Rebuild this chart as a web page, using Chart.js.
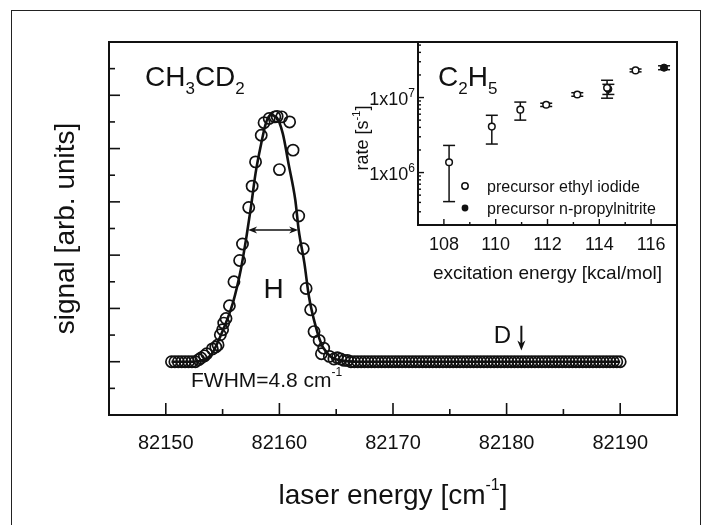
<!DOCTYPE html>
<html><head><meta charset="utf-8">
<script src="https://cdn.jsdelivr.net/npm/chart.js@4.4.1/dist/chart.umd.min.js"></script>
<style>
html,body{margin:0;padding:0;background:#fff;}
#wrap{position:relative;width:706px;height:525px;overflow:hidden;background:#fff;}
#frame{position:absolute;left:11px;top:10px;width:690px;height:560px;border:1.5px solid #222;box-sizing:border-box;}
#main{position:absolute;left:0;top:0;width:706px;height:525px;}
#inset{position:absolute;left:330px;top:30px;width:370px;height:270px;}
</style></head><body>
<div id="wrap"><div id="frame"></div>
<canvas id="main" width="706" height="525"></canvas>
<canvas id="inset" width="370" height="270"></canvas>
</div>
<script>
// ---------- main spectrum data (laser energy in cm^-1, signal arb. units) ----------
const energy = [
 82150.5,82150.8,82151.1,82151.4,82151.7,82152.0,82152.3,82152.6,
 82152.9,82153.1,82153.4,82153.6,82154.1,82154.4,82154.6,82154.8,82155.0,82155.1,82155.3,82155.6,
 82156.0,82156.5,82156.75,82157.3,82157.6,82157.9,82158.4,82158.65,82159.1,82159.6,82159.8,82160.0,
 82160.2,82160.9,82161.2,82161.7,82162.1,82162.35,82162.75,82163.05,82163.5,82163.7,82163.9,82164.4,82164.8,
 82165.1,82165.4,82165.7,82166.0,82166.3,82166.6,82166.9,82167.2,82167.5,82167.8,82168.1,82168.4,82168.7,
 82169.0,82169.3,82169.6,82169.9,82170.2,82170.5,82170.8,82171.1,82171.4,82171.7,82172.0,82172.3,82172.6,
 82172.9,82173.2,82173.5,82173.8,82174.1,82174.4,82174.7,82175.0,82175.3,82175.6,82175.9,82176.2,82176.5,
 82176.8,82177.1,82177.4,82177.7,82178.0,82178.3,82178.6,82178.9,82179.2,82179.5,82179.8,82180.1,82180.4,
 82180.7,82181.0,82181.3,82181.6,82181.9,82182.2,82182.5,82182.8,82183.1,82183.4,82183.7,82184.0,82184.3,
 82184.6,82184.9,82185.2,82185.5,82185.8,82186.1,82186.4,82186.7,82187.0,82187.3,82187.6,82187.9,82188.2,
 82188.5,82188.8,82189.1,82189.4,82189.7,82190.0
];
const signal = [
 0,0,0,0,0,0,0,0,
 0.08,0.14,0.22,0.30,0.48,0.55,0.63,1.01,1.20,1.45,1.62,2.10,
 3.00,3.80,4.42,5.79,6.59,7.50,8.50,8.97,9.13,9.19,9.21,7.21,
 9.19,9.00,7.94,5.47,4.24,2.75,1.95,1.13,0.80,0.30,0.51,0.20,0.10,
 0.15,0.10,0.05,0.05,0,0,0,0,0,0,0,0,0,
 0,0,0,0,0,0,0,0,0,0,0,0,0,
 0,0,0,0,0,0,0,0,0,0,0,0,0,
 0,0,0,0,0,0,0,0,0,0,0,0,0,
 0,0,0,0,0,0,0,0,0,0,0,0,0,
 0,0,0,0,0,0,0,0,0,0,0,0,0,
 0,0,0,0,0,0
];
// fitted line
const fitEnergy = [82150.5,82152.5,82153.1,82154.0,82154.8,82155.9,82156.6,82157.1,82157.5,82157.9,82158.4,82158.8,82159.2,82159.7,82160.3,82160.8,82161.4,82161.7,82162.2,82162.6,82163.2,82163.8,82164.5,82165.4,82167.0,82190.0];
const fitSignal = [0,0,0.05,0.26,0.95,2.20,3.45,4.69,5.82,7.07,8.19,8.94,9.25,9.19,8.56,7.44,6.07,4.94,3.70,2.45,1.32,0.57,0.20,0.05,0,0];
const xTickValues = [82150,82160,82170,82180,82190];
const xMinorTicks = [82155,82165,82175,82185];
const yTickValues = [-1,0,1,2,3,4,5,6,7,8,9,10,11];
const fwhmLevel = 4.94, fwhmFrom = 82157.25, fwhmTo = 82161.65;
const dMarkEnergy = 82181.3;

// ---------- inset data: rate vs excitation energy ----------
const excEthyl   = [108.2, 109.85, 110.95, 111.95, 113.15, 114.3, 115.4];
const rateEthyl  = [1.37e6, 4.1e6, 6.9e6, 8.0e6, 1.1e7, 1.35e7, 2.3e7];
const lowEthyl   = [4.1e5, 2.4e6, 5.0e6, 7.6e6, 1.04e7, 9.8e6, 2.2e7];
const highEthyl  = [2.3e6, 5.8e6, 8.7e6, 8.4e6, 1.16e7, 1.7e7, 2.4e7];
const excPropyl  = [114.35, 116.5];
const ratePropyl = [1.3e7, 2.5e7];
const lowPropyl  = [1.1e7, 2.35e7];
const highPropyl = [1.5e7, 2.65e7];
const insetXTicks = [108,110,112,114,116];
const insetXMinor = [109,111,113,115];
const insetYTicks = [1e6,1e7];

const FONT = '"Liberation Sans", Arial, Helvetica, sans-serif';
const INK = '#111';
Chart.defaults.font.family = FONT;
Chart.defaults.color = INK;

function rich(ctx, parts, x, y, align){
  let w = 0;
  parts.forEach(p=>{ctx.font = p.s+'px '+FONT; p.w = ctx.measureText(p.t).width; w += p.w;});
  let cx = align==='center' ? x-w/2 : (align==='right' ? x-w : x);
  ctx.textAlign='left'; ctx.textBaseline='alphabetic';
  parts.forEach(p=>{ctx.font = p.s+'px '+FONT; ctx.fillText(p.t, cx, y+(p.dy||0)); cx += p.w;});
}
function line(ctx,x1,y1,x2,y2){ctx.beginPath();ctx.moveTo(x1,y1);ctx.lineTo(x2,y2);ctx.stroke();}
function head(ctx,x,y,dx,dy,len,wid){
  const px=-dy, py=dx;
  ctx.beginPath();
  ctx.moveTo(x,y);
  ctx.lineTo(x-dx*len+px*wid, y-dy*len+py*wid);
  ctx.lineTo(x-dx*len*0.7, y-dy*len*0.7);
  ctx.lineTo(x-dx*len-px*wid, y-dy*len-py*wid);
  ctx.closePath(); ctx.fill();
}

const mainDecor = {
  id:'mainDecor',
  afterDraw(chart){
    const {ctx, chartArea:a, scales:{x,y}} = chart;
    ctx.save();
    ctx.strokeStyle = INK; ctx.fillStyle = INK;
    ctx.lineWidth = 2;
    ctx.strokeRect(a.left, a.top, a.right-a.left, a.bottom-a.top);
    ctx.lineWidth = 1.6;
    xTickValues.forEach(v=>{const p=x.getPixelForValue(v); line(ctx,p,a.bottom,p,a.bottom-12);});
    xMinorTicks.forEach(v=>{const p=x.getPixelForValue(v); line(ctx,p,a.bottom,p,a.bottom-6);});
    yTickValues.forEach(v=>{const p=y.getPixelForValue(v); line(ctx,a.left,p,a.left+(v%2===0?11:6),p);});
    // FWHM arrow
    const fy = y.getPixelForValue(fwhmLevel);
    const f1 = x.getPixelForValue(fwhmFrom), f2 = x.getPixelForValue(fwhmTo);
    ctx.lineWidth = 1.5;
    line(ctx,f1+4,fy,f2-4,fy);
    head(ctx,f1,fy,-1,0,9,3.5);
    head(ctx,f2,fy,1,0,9,3.5);
    // D marker arrow
    const dx = x.getPixelForValue(dMarkEnergy);
    const dTop = y.getPixelForValue(1.35), dTip = y.getPixelForValue(0.42);
    ctx.lineWidth = 2;
    line(ctx,dx,dTop,dx,dTip-6);
    head(ctx,dx,dTip,0,1,10,4);
    // texts
    rich(ctx,[{t:'CH',s:28},{t:'3',s:17,dy:8},{t:'CD',s:28},{t:'2',s:17,dy:8}], a.left+36, a.top+44,'left');
    rich(ctx,[{t:'H',s:28}], x.getPixelForValue(82159.5), y.getPixelForValue(2.4),'center');
    rich(ctx,[{t:'D',s:24}], dx-19, y.getPixelForValue(0.7),'center');
    rich(ctx,[{t:'FWHM=4.8 cm',s:21},{t:'-1',s:12,dy:-11}], a.left+82, a.bottom-28,'left');
    // axis titles
    rich(ctx,[{t:'laser energy [cm',s:28},{t:'-1',s:16,dy:-14},{t:']',s:28}], (a.left+a.right)/2, 504,'center');
    ctx.save();
    ctx.translate(64,(a.top+a.bottom)/2);
    ctx.rotate(-Math.PI/2);
    rich(ctx,[{t:'signal [arb. units]',s:28}],0,10,'center');
    ctx.restore();
    ctx.restore();
  }
};

new Chart(document.getElementById('main'), {
  type:'scatter',
  data:{datasets:[
    {label:'fit', data: fitEnergy.map((e,i)=>({x:e,y:fitSignal[i]})), showLine:true, pointRadius:0,
     borderColor:INK, borderWidth:2.6, cubicInterpolationMode:'monotone', fill:false},
    {label:'data', data: energy.map((e,i)=>({x:e,y:signal[i]})), pointRadius:5.6, pointStyle:'circle',
     pointBorderWidth:1.7, borderColor:INK, pointBorderColor:INK, pointBackgroundColor:'rgba(0,0,0,0)', showLine:false}
  ]},
  options:{
    responsive:false, animation:false, devicePixelRatio:1,
    layout:{padding:{left:109,top:42,right:29,bottom:0}},
    plugins:{legend:{display:false}, tooltip:{enabled:false}},
    scales:{
      x:{type:'linear', min:82145, max:82195,
         grid:{display:false, drawTicks:false}, border:{display:false},
         afterBuildTicks:s=>{s.ticks = xTickValues.map(v=>({value:v}));},
         afterFit:s=>{s.height = 110;},
         ticks:{font:{size:20}, color:INK, padding:16, maxRotation:0, callback:v=>String(v)}},
      y:{type:'linear', min:-2, max:12,
         grid:{display:false, drawTicks:false}, border:{display:false},
         ticks:{display:false}, afterFit:s=>{s.width = 0;}}
    }
  },
  plugins:[mainDecor]
});

// ---------- inset ----------
const insetDecor = {
  id:'insetDecor',
  beforeDraw(chart){
    const {ctx, chartArea:a} = chart;
    ctx.save(); ctx.fillStyle='#fff'; ctx.fillRect(a.left,a.top,a.right-a.left,a.bottom-a.top); ctx.restore();
  },
  beforeDatasetsDraw(chart){
    const {ctx, scales:{x,y}} = chart;
    ctx.save(); ctx.strokeStyle=INK; ctx.lineWidth=1.5;
    const bars = (xs,lo,hi)=>xs.forEach((v,i)=>{
      const px=x.getPixelForValue(v), p1=y.getPixelForValue(lo[i]), p2=y.getPixelForValue(hi[i]);
      line(ctx,px,p1,px,p2); line(ctx,px-6,p1,px+6,p1); line(ctx,px-6,p2,px+6,p2);
    });
    bars(excEthyl,lowEthyl,highEthyl);
    bars(excPropyl,lowPropyl,highPropyl);
    ctx.restore();
  },
  afterDraw(chart){
    const {ctx, chartArea:a, scales:{x,y}} = chart;
    ctx.save(); ctx.strokeStyle=INK; ctx.fillStyle=INK;
    ctx.lineWidth=2;
    ctx.strokeRect(a.left,a.top,a.right-a.left,a.bottom-a.top);
    ctx.lineWidth=1.4;
    insetXTicks.forEach(v=>{const p=x.getPixelForValue(v); line(ctx,p,a.bottom,p,a.bottom-6);});
    insetXMinor.forEach(v=>{const p=x.getPixelForValue(v); line(ctx,p,a.bottom,p,a.bottom-3);});
    [1e5,1e6,1e7].forEach(d=>{for(let k=1;k<10;k++){const v=d*k; if(v<y.min||v>y.max) continue;
      const p=y.getPixelForValue(v); line(ctx,a.left,p,a.left+(k===1?6:3),p);}});
    insetYTicks.forEach(v=>{const p=y.getPixelForValue(v);
      const e = Math.round(Math.log10(v));
      rich(ctx,[{t:'1x10',s:18},{t:String(e),s:12,dy:-8}], a.left-3, p+7,'right');});
    rich(ctx,[{t:'C',s:28},{t:'2',s:17,dy:8},{t:'H',s:28},{t:'5',s:17,dy:8}], a.left+20, a.top+44,'left');
    rich(ctx,[{t:'excitation energy [kcal/mol]',s:19}], (a.left+a.right)/2, 249,'center');
    ctx.save(); ctx.translate(38,108); ctx.rotate(-Math.PI/2);
    rich(ctx,[{t:'rate [s',s:18},{t:'-1',s:11,dy:-8},{t:']',s:18}],0,0,'center');
    ctx.restore();
    ctx.lineWidth=1.5;
    ctx.beginPath(); ctx.arc(a.left+47,a.top+144,3.2,0,Math.PI*2); ctx.fillStyle='#fff'; ctx.fill(); ctx.stroke();
    ctx.fillStyle=INK;
    ctx.beginPath(); ctx.arc(a.left+47,a.top+166,3.4,0,Math.PI*2); ctx.fill();
    rich(ctx,[{t:'precursor ethyl iodide',s:16}], a.left+69, a.top+150,'left');
    rich(ctx,[{t:'precursor n-propylnitrite',s:16}], a.left+69, a.top+172,'left');
    ctx.restore();
  }
};

new Chart(document.getElementById('inset'), {
  type:'scatter',
  data:{datasets:[
    {label:'precursor ethyl iodide', data: excEthyl.map((e,i)=>({x:e,y:rateEthyl[i]})), pointRadius:3.3,
     pointBorderWidth:1.5, pointBorderColor:INK, pointBackgroundColor:'#fff'},
    {label:'precursor n-propylnitrite', data: excPropyl.map((e,i)=>({x:e,y:ratePropyl[i]})), pointRadius:3.6,
     pointBorderWidth:1, pointBorderColor:INK, pointBackgroundColor:INK}
  ]},
  options:{
    responsive:false, animation:false, devicePixelRatio:1,
    layout:{padding:{left:88,top:12,right:23,bottom:0}},
    plugins:{legend:{display:false}, tooltip:{enabled:false}},
    scales:{
      x:{type:'linear', min:107, max:117,
         grid:{display:false, drawTicks:false}, border:{display:false},
         afterBuildTicks:s=>{s.ticks = insetXTicks.map(v=>({value:v}));},
         afterFit:s=>{s.height = 75;},
         ticks:{font:{size:18}, color:INK, padding:9, maxRotation:0, callback:v=>String(v)}},
      y:{type:'logarithmic', min:2e5, max:5.5e7,
         grid:{display:false, drawTicks:false}, border:{display:false},
         ticks:{display:false}, afterFit:s=>{s.width = 0;}}
    }
  },
  plugins:[insetDecor]
});
</script>
</body></html>
